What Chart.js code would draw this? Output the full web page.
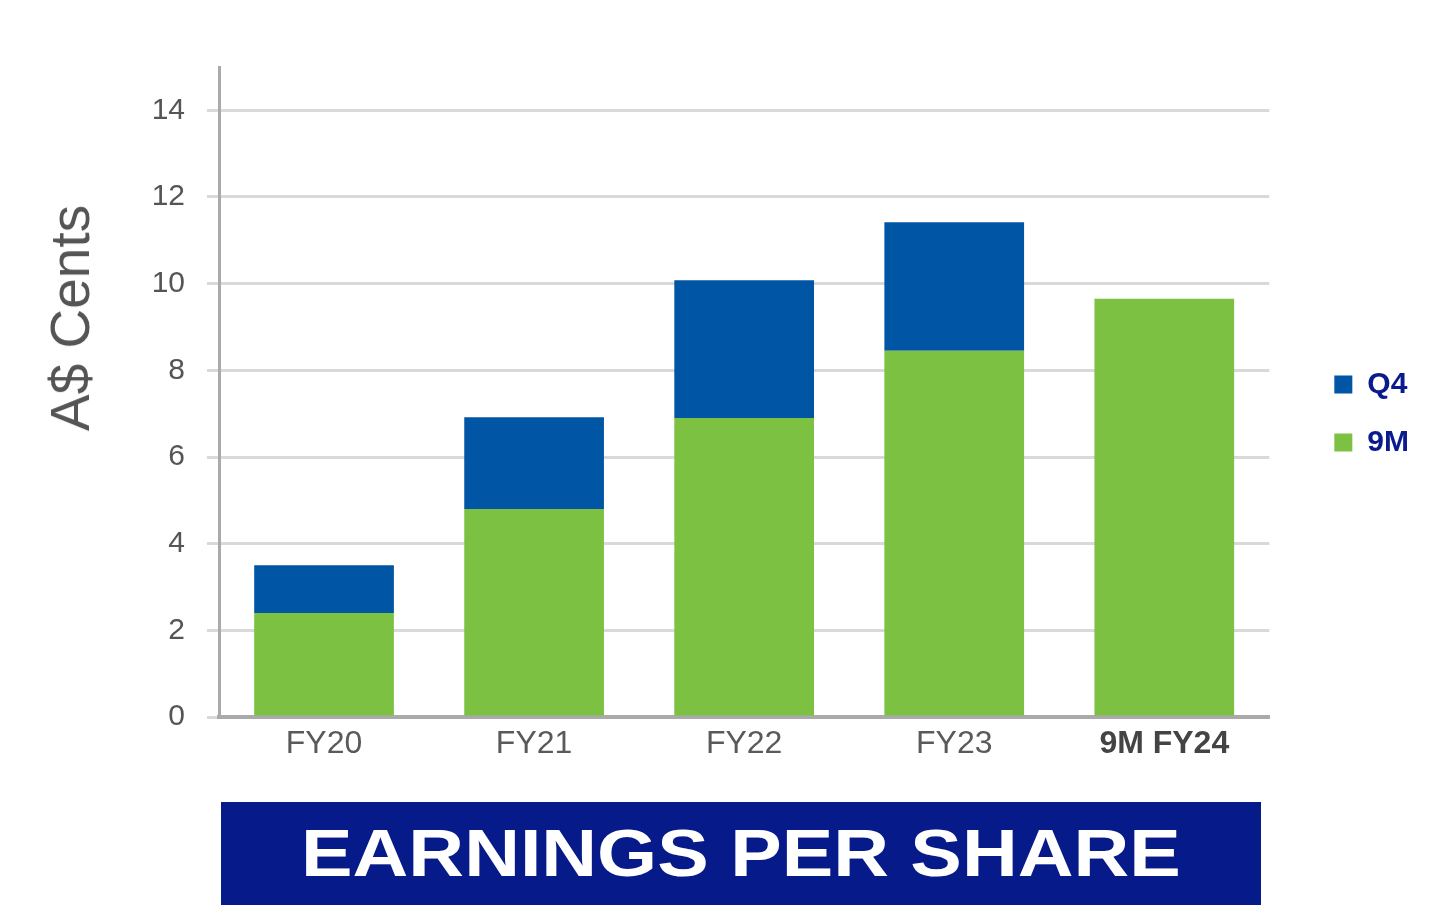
<!DOCTYPE html>
<html>
<head>
<meta charset="utf-8">
<script src="https://cdn.jsdelivr.net/npm/chart.js@4"></script>
<style>
    html, body { margin: 0; padding: 0; background: #fff; }
    #wrap { position: relative; width: 1446px; height: 908px; }
    #chartBox { position: absolute; left: 0; top: 0; width: 1446px; height: 790px; }
    #yTitle {
        position: absolute; left: 70px; top: 318px; transform: translate(-50%, -50%) rotate(-90deg);
        font-family: "Liberation Sans", Arial, sans-serif; font-size: 55px; color: #555;
        white-space: nowrap;
    }
    #banner {
        position: absolute; left: 221px; top: 802px; width: 1040px; height: 103px;
        background: #061a8a; color: #fff; text-align: center;
        font-family: "Liberation Sans", Arial, sans-serif; font-weight: 900;
        font-size: 66px; line-height: 103px;
    }
    #banner span { display: inline-block; transform: scaleX(1.17); }
</style>
</head>
<body>
<div id="wrap">
    <div id="chartBox"><canvas id="epsChart"></canvas></div>
    <div id="yTitle">A$ Cents</div>
    <div id="banner"><span>EARNINGS PER SHARE</span></div>
</div>
<script>
const categories = ['FY20', 'FY21', 'FY22', 'FY23', '9M FY24'];
const nineMonths = [2.4, 4.8, 6.9, 8.45, 9.65];
const fourthQuarter = [1.1, 2.12, 3.18, 2.97, null];
const yTicks = [0, 2, 4, 6, 8, 10, 12, 14];

const ctx = document.getElementById('epsChart').getContext('2d');
const chart = new Chart(ctx, {
    type: 'bar',
    data: {
        labels: categories,
        datasets: [
            {
                label: '9M',
                data: nineMonths,
                backgroundColor: '#7dc142',
                barPercentage: 0.665,
                categoryPercentage: 1
            },
            {
                label: 'Q4',
                data: fourthQuarter,
                backgroundColor: '#0055a5',
                barPercentage: 0.665,
                categoryPercentage: 1
            }
        ]
    },
    options: {
        responsive: true,
        maintainAspectRatio: false,
        animation: false,
        layout: { padding: { top: 67, left: 0, right: 27, bottom: 30 } },
        plugins: {
            tooltip: { enabled: false },
            legend: {
                position: 'right',
                reverse: true,
                labels: {
                    boxWidth: 18,
                    boxHeight: 18,
                    padding: 28,
                    color: '#0b1a8c',
                    font: { family: 'Liberation Sans', size: 30, weight: 'bold' }
                }
            }
        },
        scales: {
            x: {
                stacked: true,
                grid: { display: false },
                border: { color: '#aaaaaa', width: 4 },
                afterFit: (axis) => { axis.height = 43; },
                ticks: {
                    color: (c) => c.index === 4 ? '#444444' : '#5a5a5a',
                    padding: 0,
                    font: (c) => ({
                        family: 'Liberation Sans',
                        size: 32,
                        weight: c.index === 4 ? 'bold' : 'normal'
                    })
                }
            },
            y: {
                stacked: true,
                min: 0,
                max: 15,
                afterBuildTicks: (axis) => {
                    axis.ticks = yTicks.map(v => ({ value: v }));
                },
                afterFit: (axis) => { axis.width = 219; },
                grid: { color: '#d9d9d9', lineWidth: 3, tickLength: 12 },
                border: { color: '#aaaaaa', width: 3 },
                ticks: {
                    color: '#555555',
                    padding: 22,
                    font: { family: 'Liberation Sans', size: 30 }
                }
            },
            spacer: {
                position: 'right',
                display: true,
                grid: { display: false },
                border: { display: false },
                ticks: { display: false },
                afterFit: (axis) => { axis.width = 37; }
            }
        }
    }
});
</script>
</body>
</html>
